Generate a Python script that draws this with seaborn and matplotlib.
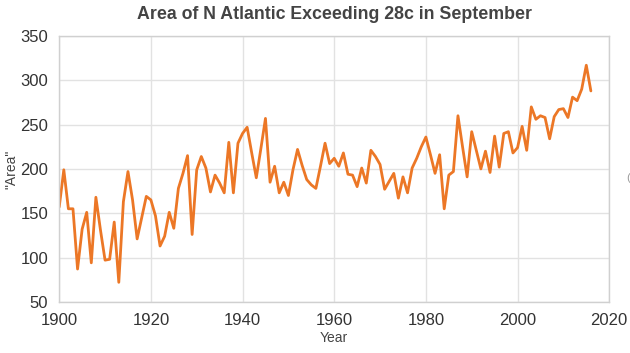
import matplotlib
matplotlib.use('Agg')
import matplotlib.pyplot as plt
import seaborn as sns
import pandas as pd

# Площадь Северной Атлантики > 28c в сентябре
years = list(range(1900, 2017))
area = [
    157, 199, 155, 155, 87, 132, 151, 94, 168, 131,
    97, 98, 140, 72, 163, 197, 165, 121, 145, 169,
    165, 147, 113, 124, 151, 133, 178, 195, 215, 126,
    199, 214, 201, 174, 193, 184, 173, 230, 173, 229,
    240, 247, 218, 190, 223, 257, 185, 203, 173, 185,
    170, 199, 222, 204, 188, 182, 178, 203, 229, 206,
    212, 203, 218, 194, 193, 180, 201, 184, 221, 214,
    205, 177, 186, 195, 167, 191, 173, 201, 212, 225,
    236, 216, 195, 216, 155, 193, 197, 260, 225, 191,
    242, 221, 200, 220, 196, 237, 202, 240, 242, 218,
    224, 248, 221, 270, 256, 260, 258, 234, 259, 267,
    268, 258, 281, 277, 290, 317, 288,
]

df = pd.DataFrame({'Year': years, 'Area': area})

sns.set_theme(style='whitegrid')
plt.rcParams['font.family'] = ['Liberation Sans', 'DejaVu Sans']

fig, ax = plt.subplots(figsize=(6.3, 3.53), dpi=100)
fig.subplots_adjust(left=0.094, right=0.967, top=0.898, bottom=0.145)

sns.lineplot(data=df, x='Year', y='Area', color='#ec7726', linewidth=2.0, ax=ax)

ax.set_xlim(1900, 2020)
ax.set_ylim(50, 350)
ax.set_xticks(range(1900, 2021, 20))
ax.set_yticks(range(50, 351, 50))
ax.tick_params(axis='both', labelsize=12, colors='#333333', length=0)
ax.tick_params(axis='x', pad=8)
ax.tick_params(axis='y', pad=8)
ax.grid(True, color='#e2e2e2', linewidth=1.0)
for side in ax.spines.values():
    side.set_color('#d0d0d0')
    side.set_linewidth(1.0)

ax.set_title('Area of N Atlantic Exceeding 28c in September',
             fontsize=12.8, fontweight='bold', color='#444444', pad=12)
ax.set_xlabel('Year', fontsize=10, color='#444444', labelpad=2)
ax.set_ylabel('"Area"', fontsize=10, color='#444444', labelpad=1)

fig.text(0.994, 0.495, '(', fontsize=8, color='#999999', ha='left', va='center')

fig.savefig('out.png', dpi=100)
